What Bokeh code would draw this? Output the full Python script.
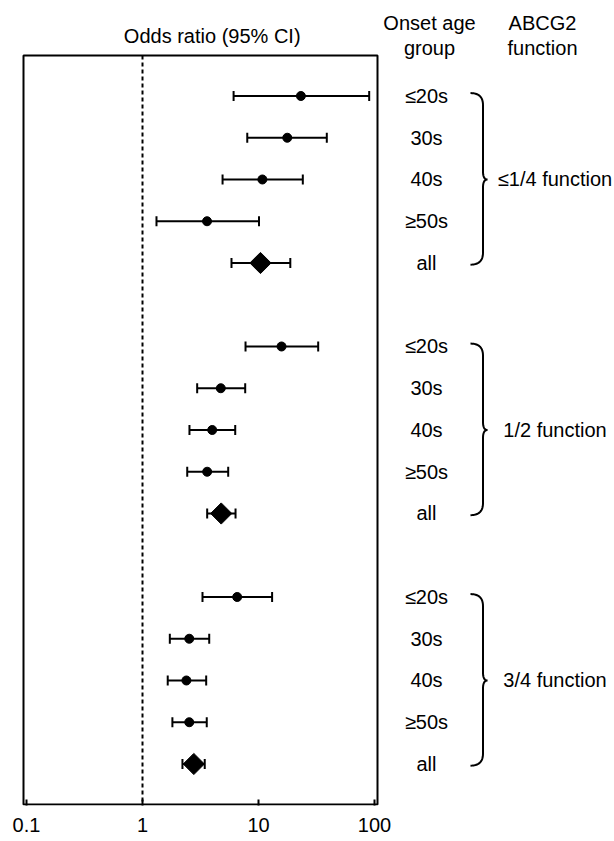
import numpy as np
from bokeh.plotting import figure
from bokeh.models import Range1d, Whisker, ColumnDataSource, FixedTicker, TeeHead
from bokeh.embed import file_html
from bokeh.resources import INLINE
from bokeh.core.properties import value

# ---------------- data ----------------
groups = ["≤1/4 function", "1/2 function", "3/4 function"]
ages = ["≤20s", "30s", "40s", "≥50s", "all"]

or_g1 = [23.2, 17.7, 10.8, 3.6, 10.4]
lo_g1 = [6.1, 8.0, 4.9, 1.32, 5.85]
hi_g1 = [90.0, 38.8, 24.1, 10.1, 18.8]

or_g2 = [15.8, 4.73, 3.99, 3.61, 4.77]
lo_g2 = [7.73, 2.96, 2.54, 2.43, 3.61]
hi_g2 = [32.7, 7.68, 6.3, 5.48, 6.34]

or_g3 = [6.55, 2.53, 2.39, 2.53, 2.77]
lo_g3 = [3.29, 1.72, 1.65, 1.81, 2.21]
hi_g3 = [13.1, 3.76, 3.54, 3.58, 3.44]

tick_values = [0.1, 1, 10, 100]
tick_labels = ["0.1", "1", "10", "100"]

FONT = "Liberation Sans"

# ---------------- layout (pixels) ----------------
W, H = 614, 841
FL, FR, FT, FB = 21, 614, 0, 805          # frame edges
BOX_L, BOX_R, BOX_T, BOX_B = 23, 377, 55, 804
PX_ONE, PX_DEC = 142.0, 116.0             # pixel of OR=1, pixels per decade
ROW_TOP_PX, PX_ROW = 55.0, 41.75          # pixel of box top, pixels per row
ROW_TOP = -0.97

def px2x(px):
    return 10 ** ((px - PX_ONE) / PX_DEC)

def py2row(py):
    return ROW_TOP + (py - ROW_TOP_PX) / PX_ROW

# ---------------- table ----------------
ors = [or_g1, or_g2, or_g3]
los = [lo_g1, lo_g2, lo_g3]
his = [hi_g1, hi_g2, hi_g3]
ys, ov, lv, hv, is_all, lab = [], [], [], [], [], []
for g in range(3):
    for i in range(5):
        ys.append(g * 6 + i)
        ov.append(ors[g][i])
        lv.append(los[g][i])
        hv.append(his[g][i])
        is_all.append(ages[i] == "all")
        lab.append(ages[i])

src_ci = ColumnDataSource(dict(y=ys, lo=lv, hi=hv))
src_pt = ColumnDataSource(dict(y=[y for y, a in zip(ys, is_all) if not a],
                               o=[o for o, a in zip(ov, is_all) if not a]))
src_dm = ColumnDataSource(dict(y=[y for y, a in zip(ys, is_all) if a],
                               o=[o for o, a in zip(ov, is_all) if a]))

# ---------------- figure ----------------
p = figure(width=W, height=H, x_axis_type="log",
           x_range=Range1d(px2x(FL), px2x(FR)),
           y_range=Range1d(py2row(FB), py2row(FT)),
           y_axis_location=None, toolbar_location=None, output_backend="svg",
           min_border_left=FL, min_border_right=W - FR,
           min_border_top=FT, min_border_bottom=H - FB)
p.grid.visible = False
p.outline_line_color = None
p.background_fill_color = "white"
p.border_fill_color = "white"

ax = p.xaxis[0]
ax.ticker = FixedTicker(ticks=tick_values)
ax.major_label_overrides = {v: l for v, l in zip(tick_values, tick_labels)}
ax.axis_line_color = None
ax.major_tick_in = 6
ax.major_tick_out = 0
ax.major_tick_line_width = 2
ax.major_tick_line_color = "black"
ax.minor_tick_line_color = None
ax.major_label_text_font = FONT
ax.major_label_text_font_size = "20px"
ax.major_label_text_color = "black"
ax.major_label_standoff = 12

# plot box
p.quad(left=[px2x(BOX_L)], right=[px2x(BOX_R)], top=[py2row(BOX_T)], bottom=[py2row(BOX_B)],
       fill_color=None, line_color="black", line_width=2)

# reference line at OR = 1
p.segment(x0=[1], x1=[1], y0=[py2row(BOX_T)], y1=[py2row(BOX_B)],
          line_color="black", line_width=2, line_dash="4 3")

# CIs
p.add_layout(Whisker(source=src_ci, base="y", lower="lo", upper="hi",
                     dimension="width", line_color="black", line_width=2,
                     lower_head=TeeHead(size=10, line_width=2, line_color="black"),
                     upper_head=TeeHead(size=10, line_width=2, line_color="black")))

p.scatter(x="o", y="y", source=src_pt, marker="circle", size=9,
          fill_color="black", line_color="black")
p.scatter(x="o", y="y", source=src_dm, marker="square", angle=np.pi / 4,
          size=15, fill_color="black", line_color="black")

tk = dict(text_font=value(FONT), text_font_size="20px", text_color="black",
          text_baseline="middle")

# headers
p.text(x=[px2x(211.7)], y=[py2row(35)], text=["Odds ratio (95% CI)"],
       text_align="center", **tk)
p.text(x=[px2x(429), px2x(429)], y=[py2row(22), py2row(47)],
       text=["Onset age", "group"], text_align="center", **tk)
p.text(x=[px2x(542), px2x(542)], y=[py2row(22), py2row(47)],
       text=["ABCG2", "function"], text_align="center", **tk)

# row labels
p.text(x=[px2x(426)] * len(ys), y=ys, text=lab, text_align="center", **tk)

# group labels
p.text(x=[px2x(554.5)] * 3, y=[g * 6 + 2 for g in range(3)],
       text=groups, text_align="center", **tk)

# braces (pixel x for shape, converted to data)
def quad(p0, c, p1, n=14):
    t = np.linspace(0, 1, n)
    x = (1 - t) ** 2 * p0[0] + 2 * (1 - t) * t * c[0] + t ** 2 * p1[0]
    y = (1 - t) ** 2 * p0[1] + 2 * (1 - t) * t * c[1] + t ** 2 * p1[1]
    return list(x), list(y)

xl, xv, xt = 470.0, 482.5, 487.0
hk = 12 / PX_ROW
tp = 8 / PX_ROW
bx, by = [], []
for g in range(3):
    y0 = g * 6 - 0.07
    y1 = g * 6 + 4 + 0.04
    ym = g * 6 + 2
    xs, ysb = [], []
    for seg in [quad((xl, y0), (xv, y0), (xv, y0 + hk)),
                ([xv, xv], [y0 + hk, ym - tp]),
                quad((xv, ym - tp), (xv, ym), (xt, ym)),
                quad((xt, ym), (xv, ym), (xv, ym + tp)),
                ([xv, xv], [ym + tp, y1 - hk]),
                quad((xv, y1 - hk), (xv, y1), (xl, y1))]:
        xs += list(seg[0])
        ysb += list(seg[1])
    bx.append([px2x(v) for v in xs])
    by.append(ysb)
p.multi_line(xs=bx, ys=by, line_color="black", line_width=2)

open("out.html", "w").write(file_html(p, INLINE))
